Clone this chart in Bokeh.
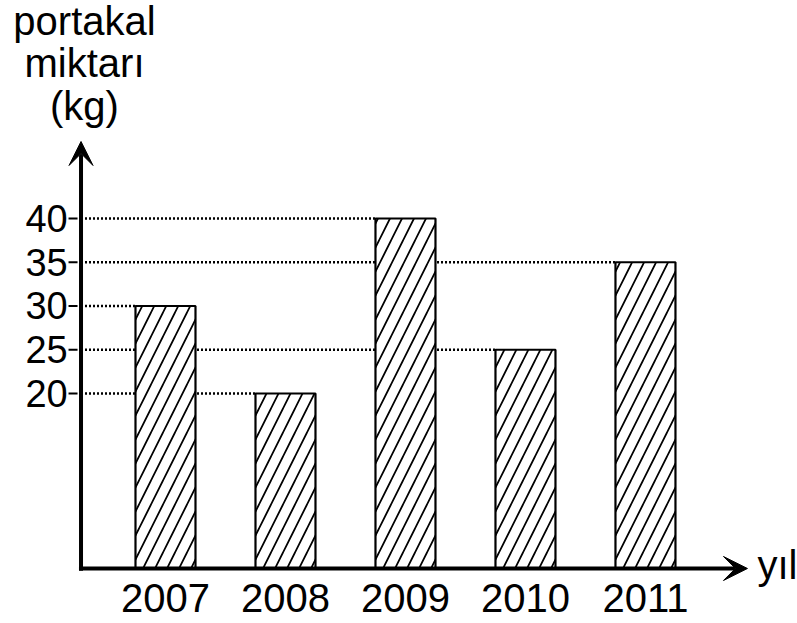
from bokeh.plotting import figure
from bokeh.models import Range1d, Arrow, VeeHead
from bokeh.core.properties import value
from bokeh.embed import file_html
from bokeh.resources import INLINE

# ---- data ----
years = ["2007", "2008", "2009", "2010", "2011"]
amounts = [30, 20, 40, 25, 35]
y_ticks = [20, 25, 30, 35, 40]
y_tick_labels = ["20", "25", "30", "35", "40"]
title_lines = ["portakal", "miktarı", "(kg)"]
x_name = "yıl"

FONT = "Liberation Sans"
idx = list(range(len(years)))
bar_w = 0.5

# layout constants (data units)
x_axis_pos = -0.704      # vertical axis line
tick_x0, tick_x1 = -0.808, -0.733
tick_label_x = -0.815
tick_label_dy = 0.0
y_top_arrow = 48.8
x_right_arrow = 4.85
year_label_y = -3.33
x_name_pos = (4.933, 0.44)
title_x = -0.675
title_y = [62.61, 57.81, 52.9]

p = figure(width=797, height=623, output_backend="svg", toolbar_location=None,
           x_axis_type=None, y_axis_type=None,
           x_range=Range1d(-1.375, 5.267), y_range=Range1d(-6.286, 64.914),
           min_border_left=0, min_border_right=0, min_border_top=0,
           min_border_bottom=0, outline_line_color=None,
           background_fill_color="white", border_fill_color="white")
p.xgrid.grid_line_color = None
p.ygrid.grid_line_color = None

# dotted guide lines from axis to each bar's left edge
p.segment(x0=[x_axis_pos] * len(idx), y0=amounts,
          x1=[i - bar_w / 2 for i in idx], y1=amounts,
          line_color="black", line_width=2.6, line_dash="2 2")

# bars
p.vbar(x=idx, top=amounts, bottom=0, width=bar_w,
       fill_color="white", line_color="black", line_width=2.2,
       hatch_pattern="/", hatch_color="black", hatch_scale=24, hatch_weight=1.7)

# y ticks and tick labels
p.segment(x0=[tick_x0] * len(y_ticks), y0=y_ticks, x1=[tick_x1] * len(y_ticks), y1=y_ticks,
          line_color="black", line_width=2)
p.text(x=[tick_label_x] * len(y_ticks), y=[t + tick_label_dy for t in y_ticks],
       text=y_tick_labels, text_align="right", text_baseline="middle",
       text_font=value(FONT), text_font_size="38px", text_color="black")

# axes with arrows
p.add_layout(Arrow(end=VeeHead(size=24, fill_color="black", line_color="black", line_width=1),
                   x_start=x_axis_pos, y_start=-0.25, x_end=x_axis_pos, y_end=y_top_arrow,
                   line_width=4, line_color="black"))
p.add_layout(Arrow(end=VeeHead(size=24, fill_color="black", line_color="black", line_width=1),
                   x_start=x_axis_pos - 0.017, y_start=0, x_end=x_right_arrow, y_end=0,
                   line_width=4, line_color="black"))

# category labels
p.text(x=idx, y=[year_label_y] * len(idx), text=years, text_align="center",
       text_baseline="alphabetic", text_font=value(FONT), text_font_size="40px",
       text_color="black")

# x axis name
p.text(x=[x_name_pos[0]], y=[x_name_pos[1]], text=[x_name], text_align="left",
       text_baseline="alphabetic", text_font=value(FONT), text_font_size="40px",
       text_color="black")

# y axis title (three lines)
p.text(x=[title_x] * 3, y=title_y, text=title_lines, text_align="center",
       text_baseline="alphabetic", text_font=value(FONT), text_font_size="40px",
       text_color="black")

open("out.html", "w").write(file_html(p, INLINE))
